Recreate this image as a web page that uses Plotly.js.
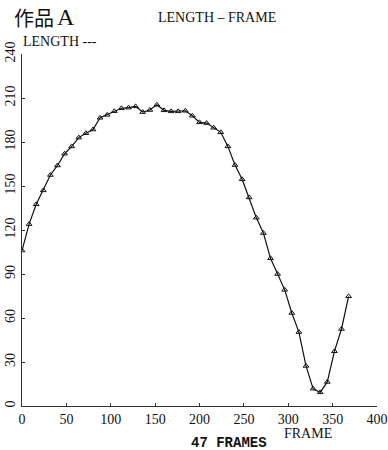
<!DOCTYPE html>
<html>
<head>
<meta charset="utf-8">
<script src="https://cdn.plot.ly/plotly-3.0.1.min.js"></script>
<style>body{margin:0;padding:0;background:#fff}#chart{width:388px;height:450px}</style>
</head>
<body>
<div id="chart"></div>
<script>
var frames = [0,8,16,24,32,40,48,56,64,72,80,88,96,104,112,120,128,136,144,152,160,168,176,184,192,200,208,216,224,232,240,248,256,264,272,280,288,296,304,312,320,328,336,344,352,360,368];
var lengths = [106,124,137.5,147,157.5,164,172,177,183,186,188.5,196.5,198.5,201,203,203.4,204.3,200.4,201.8,205.4,201.6,200.9,200.9,201.3,197.9,193.4,192.9,189.7,186.6,177,164.3,154.6,142.2,128.4,117.9,100.7,90,79.2,63.4,50.4,27.3,11.8,9.3,16.4,37.3,52.5,74.8];
var xTicks = [0,50,100,150,200,250,300,350,400];
var yTicks = [0,30,60,90,120,150,180,210,240];

var serif = "Liberation Serif, DejaVu Serif, serif";
var trace = {
  x: frames, y: lengths, type: 'scatter', mode: 'lines+markers',
  line: {color: '#111', width: 1.2},
  marker: {symbol: 'triangle-up-open', size: 5, color: '#111', line: {width: 1, color: '#111'}},
  hoverinfo: 'skip'
};
var L = 22, R = 11, T = 54, B = 44, W = 388, H = 450;
function px(a){ a.xref='paper'; a.yref='paper'; a.x=(a.x-L)/(W-L-R); a.y=1-(a.y-T)/(H-T-B); a.showarrow=false; return a; }
var layout = {
  width: W, height: H,
  margin: {l: L, r: R, t: T, b: B},
  paper_bgcolor: '#fff', plot_bgcolor: '#fff',
  showlegend: false,
  font: {family: serif, color: '#111', size: 13},
  xaxis: {
    range: [0, 400], tickvals: xTicks, ticktext: xTicks.map(String),
    showgrid: false, zeroline: false, showline: true, linecolor: '#333', linewidth: 1,
    ticks: 'inside', ticklen: 3, tickcolor: '#333',
    tickfont: {family: serif, size: 14, color: '#111'}
  },
  yaxis: {
    range: [0, 240], tickvals: yTicks, ticktext: yTicks.map(String),
    showgrid: false, zeroline: false, showline: true, linecolor: '#333', linewidth: 1,
    ticks: 'inside', ticklen: 3, tickcolor: '#333', tickangle: -90,
    tickfont: {family: serif, size: 14, color: '#111'}
  },
  annotations: [
    px({text: '作品', x: 12, y: 18, xanchor: 'left', yanchor: 'middle',
     font: {family: "Noto Sans CJK JP, sans-serif", size: 20, color: '#111'}}),
    px({text: 'A', x: 55, y: 17, xanchor: 'left', yanchor: 'middle',
     font: {family: serif, size: 24, color: '#111'}}),
    px({text: 'LENGTH – FRAME', x: 217, y: 18, xanchor: 'center', yanchor: 'middle',
     font: {family: serif, size: 14, color: '#111'}}),
    px({text: 'LENGTH ---', x: 21, y: 42, xanchor: 'left', yanchor: 'middle',
     font: {family: serif, size: 14, color: '#111'}}),
    px({text: 'FRAME', x: 308, y: 433, xanchor: 'center', yanchor: 'middle',
     font: {family: serif, size: 14, color: '#111'}}),
    px({text: '47 FRAMES', x: 229, y: 443, xanchor: 'center', yanchor: 'middle',
     font: {family: "Liberation Mono, DejaVu Sans Mono, monospace", size: 14, color: '#111', weight: 'bold'}})
  ]
};
Plotly.newPlot('chart', [trace], layout, {displayModeBar: false, staticPlot: true});
</script>
</body>
</html>
